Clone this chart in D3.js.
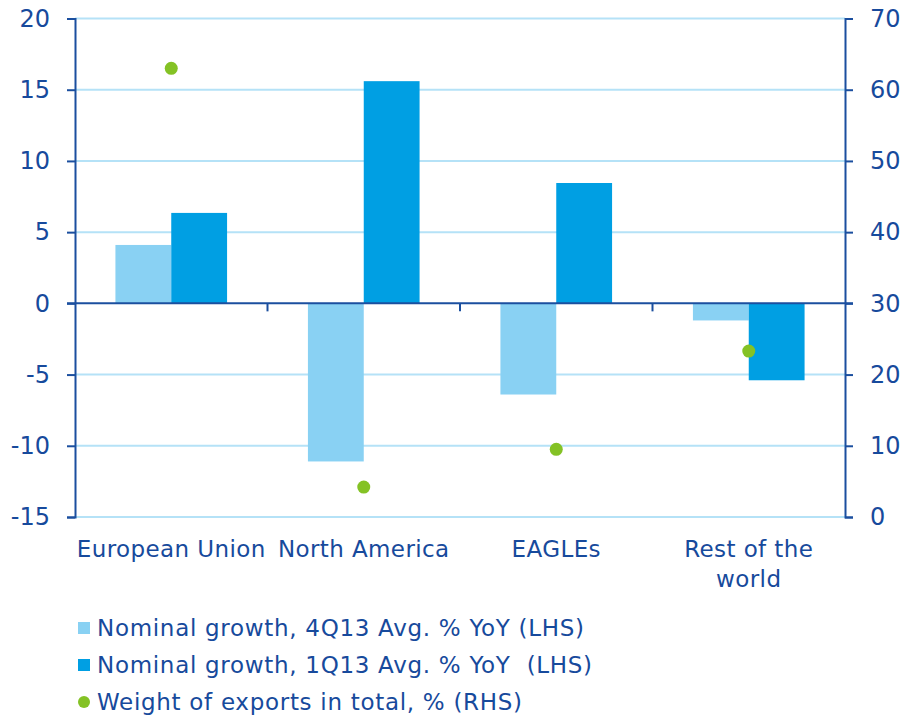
<!DOCTYPE html>
<html>
<head>
  <meta charset="utf-8">
  <title>Export growth by region</title>
  <style>
    body { margin: 0; background: #fff; }
    text { font-family: "DejaVu Sans", sans-serif; fill: #174a9c; }
  </style>
  <script src="https://d3js.org/d3.v7.min.js"></script>
</head>
<body>
  <div id="chart"></div>
  <script>
    // data
    var categories = ["European Union", "North America", "EAGLEs", "Rest of the world"];
    var growth4Q13 = [4.1, -11.1, -6.4, -1.2];
    var growth1Q13 = [6.35, 15.6, 8.45, -5.4];
    var exportWeight = [63.0, 4.2, 9.5, 23.3];
    var leftTicks = [20, 15, 10, 5, 0, -5, -10, -15];
    var rightTicks = [70, 60, 50, 40, 30, 20, 10, 0];
    var legendLabels = [
      "Nominal growth, 4Q13 Avg. % YoY (LHS)",
      "Nominal growth, 1Q13 Avg. % YoY  (LHS)",
      "Weight of exports in total, % (RHS)"
    ];

    var cLight = "#89d1f3", cDark = "#009fe3", cDot = "#84c225",
        cAxis = "#1b4f9f", cGrid = "#b5e2f7";

    var W = 903, H = 717;
    var mLeft = 75, mRight = 845, mTop = 18.5, mBottom = 517;

    var svg = d3.select("#chart").append("svg")
        .attr("width", W)
        .attr("height", H);

    var x = d3.scaleBand()
      .domain(categories)
      .range([mLeft, mRight])
      .paddingInner(0.42)
      .paddingOuter(0.21);

    var xs = d3.scaleBand()
      .domain([0, 1])
      .range([0, x.bandwidth()]);

    var yL = d3.scaleLinear().domain([-15, 20]).range([mBottom, mTop]);
    var yR = d3.scaleLinear().domain([0, 70]).range([mBottom, mTop]);

    // grid lines
    svg.append("g")
      .selectAll("line")
      .data(leftTicks.filter(function(d) { return d !== 0; }))
      .join("line")
        .attr("x1", mLeft)
        .attr("x2", mRight)
        .attr("y1", function(d) { return yL(d); })
        .attr("y2", function(d) { return yL(d); })
        .attr("stroke", cGrid)
        .attr("stroke-width", 2);

    // bars
    var groups = svg.append("g")
      .selectAll("g")
      .data(categories)
      .join("g")
        .attr("transform", function(d) { return "translate(" + x(d) + ",0)"; });

    groups.append("rect")
      .attr("x", xs(0))
      .attr("width", xs.bandwidth())
      .attr("y", function(d, i) { return yL(Math.max(0, growth4Q13[i])); })
      .attr("height", function(d, i) { return Math.abs(yL(growth4Q13[i]) - yL(0)); })
      .attr("fill", cLight);

    groups.append("rect")
      .attr("x", xs(1))
      .attr("width", xs.bandwidth())
      .attr("y", function(d, i) { return yL(Math.max(0, growth1Q13[i])); })
      .attr("height", function(d, i) { return Math.abs(yL(growth1Q13[i]) - yL(0)); })
      .attr("fill", cDark);

    // zero line with category ticks
    svg.append("line")
      .attr("x1", mLeft - 8).attr("x2", mRight + 8)
      .attr("y1", yL(0)).attr("y2", yL(0))
      .attr("stroke", cAxis).attr("stroke-width", 2);

    svg.append("g")
      .selectAll("line")
      .data(categories.slice(1))
      .join("line")
        .attr("x1", function(d) { return x(d) - x.step() * x.paddingInner() / 2; })
        .attr("x2", function(d) { return x(d) - x.step() * x.paddingInner() / 2; })
        .attr("y1", yL(0))
        .attr("y2", yL(0) + 8)
        .attr("stroke", cAxis)
        .attr("stroke-width", 2);

    // dots
    svg.append("g")
      .selectAll("circle")
      .data(exportWeight)
      .join("circle")
        .attr("cx", function(d, i) { return x(categories[i]) + x.bandwidth() / 2; })
        .attr("cy", function(d) { return yR(d); })
        .attr("r", 6.5)
        .attr("fill", cDot);

    // axes (plain hyphen for negatives, as in the original)
    var fmt = function(d) { return String(d); };
    var axL = svg.append("g")
      .attr("transform", "translate(" + mLeft + ",0)")
      .call(d3.axisLeft(yL).tickValues(leftTicks).tickFormat(fmt).tickSize(8).tickPadding(17));
    var axR = svg.append("g")
      .attr("transform", "translate(" + mRight + ",0)")
      .call(d3.axisRight(yR).tickValues(rightTicks).tickFormat(fmt).tickSize(8).tickPadding(17));

    [axL, axR].forEach(function(ax) {
      ax.select(".domain").attr("stroke", cAxis).attr("stroke-width", 2);
      ax.selectAll(".tick line").attr("stroke", cAxis).attr("stroke-width", 2);
      ax.selectAll(".tick text")
        .attr("fill", "#174a9c")
        .attr("font-size", null)
        .attr("font-family", null)
        .style("font-size", "24px");
    });

    // category labels
    var catLabels = svg.append("g")
      .selectAll("text")
      .data(categories)
      .join("text")
        .attr("x", function(d) { return x(d) + x.bandwidth() / 2; })
        .attr("y", 557)
        .attr("text-anchor", "middle")
        .style("font-size", "23px")
        .style("letter-spacing", "0.4px");

    catLabels.each(function(d) {
      var t = d3.select(this);
      var lines = d === "Rest of the world" ? ["Rest of the", "world"] : [d];
      lines.forEach(function(l, j) {
        t.append("tspan")
          .attr("x", t.attr("x"))
          .attr("dy", j === 0 ? 0 : 30)
          .text(l);
      });
    });

    // legend
    var legend = svg.append("g")
      .attr("transform", "translate(78,628)");

    var rows = legend.selectAll("g")
      .data(legendLabels)
      .join("g")
        .attr("transform", function(d, i) { return "translate(0," + (i * 37) + ")"; });

    rows.each(function(d, i) {
      var g = d3.select(this);
      if (i < 2) {
        g.append("rect")
          .attr("x", 0).attr("y", -6)
          .attr("width", 12).attr("height", 12)
          .attr("fill", i === 0 ? cLight : cDark);
      } else {
        g.append("circle")
          .attr("cx", 6).attr("cy", 0).attr("r", 6)
          .attr("fill", cDot);
      }
      g.append("text")
        .attr("x", 19)
        .attr("y", 8)
        .style("font-size", "23px")
        .style("letter-spacing", "0.7px")
        .style("white-space", "pre")
        .text(d);
    });
  </script>
</body>
</html>
